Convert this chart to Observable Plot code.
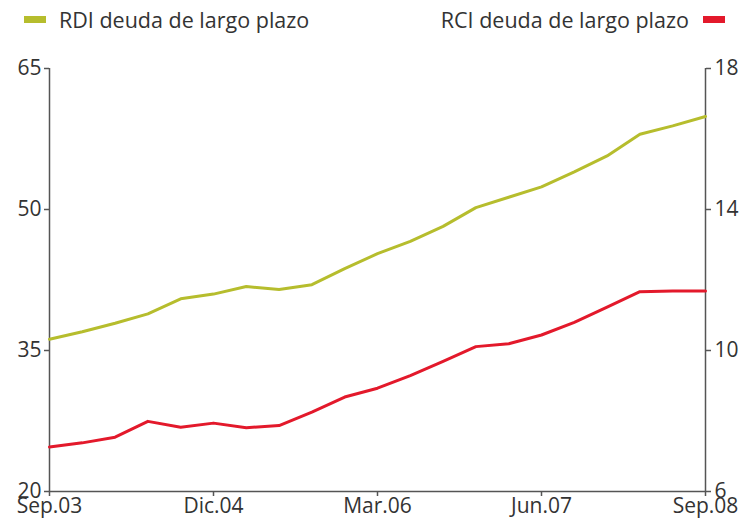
<!DOCTYPE html>
<html><head><meta charset="utf-8">
<script src="https://cdn.jsdelivr.net/npm/d3@7"></script>
<script src="https://cdn.jsdelivr.net/npm/@observablehq/plot@0.6"></script>
<style>
body{margin:0;background:#fff;font-family:"Open Sans",sans-serif;overflow:hidden;}
#wrap{position:relative;width:747px;height:526px;}
.leg{position:absolute;top:5px;font-size:21.5px;color:#333;display:flex;align-items:center;}
.sw{display:inline-block;width:22px;height:7px;}
</style></head><body>
<div id="wrap">
<div class="leg" style="left:24px;"><span class="sw" style="background:#b6bd2d;margin-right:13px"></span>RDI deuda de largo plazo</div>
<div class="leg" style="right:22px;">RCI deuda de largo plazo<span class="sw" style="background:#e3192b;margin-left:14px"></span></div>
<div id="chart"></div>
</div>
<script>
const quarters = ["Sep.03","Dic.03","Mar.04","Jun.04","Sep.04","Dic.04","Mar.05","Jun.05","Sep.05","Dic.05","Mar.06","Jun.06","Sep.06","Dic.06","Mar.07","Jun.07","Sep.07","Dic.07","Mar.08","Jun.08","Sep.08"];
const rdi = [36.2,37.0,37.9,38.9,40.5,41.0,41.8,41.5,42.0,43.7,45.3,46.6,48.2,50.2,51.3,52.4,54.0,55.7,58.0,58.9,59.9];
const rci = [7.26,7.38,7.54,7.99,7.82,7.94,7.81,7.87,8.25,8.68,8.93,9.29,9.69,10.11,10.19,10.44,10.8,11.23,11.67,11.69,11.69];
const xTicks = ["Sep.03","Dic.04","Mar.06","Jun.07","Sep.08"];
const leftTicks = [20,35,50,65];
const rightTicks = [6,10,14,18];
const leftDomain = [20,65];
const rightDomain = [6,18];
const toLeft = v => leftDomain[0] + (v - rightDomain[0]) * (leftDomain[1]-leftDomain[0])/(rightDomain[1]-rightDomain[0]);
const toRight = v => rightDomain[0] + (v - leftDomain[0]) * (rightDomain[1]-rightDomain[0])/(leftDomain[1]-leftDomain[0]);
const dRdi = quarters.map((q,i)=>({i, q, v: rdi[i]}));
const dRci = quarters.map((q,i)=>({i, q, v: toLeft(rci[i])}));
const axisColor = "#555";
const last = quarters.length - 1;
const chart = Plot.plot({
  width: 747, height: 486,
  marginTop: 28, marginBottom: 35, marginLeft: 49, marginRight: 42,
  style: {fontFamily: "Open Sans, sans-serif", fontSize: "21px", color: "#333", background: "#fff"},
  x: {type: "linear", domain: [0, last]},
  y: {domain: leftDomain},
  marks: [
    Plot.ruleX([0, last], {stroke: axisColor, strokeWidth: 1.5}),
    Plot.ruleY([leftDomain[0]], {stroke: axisColor, strokeWidth: 1.5}),
    Plot.axisX({ticks: xTicks.map(t => quarters.indexOf(t)), tickFormat: i => quarters[i], tickSize: 5, tickPadding: 2, stroke: axisColor, strokeWidth: 1.5, label: null, fill: "#333"}),
    Plot.axisY({anchor: "left", ticks: leftTicks, tickSize: 5, tickPadding: 3, stroke: axisColor, strokeWidth: 1.5, label: null, fill: "#333"}),
    Plot.axisY({anchor: "right", ticks: rightTicks.map(toLeft), tickFormat: d => String(Math.round(toRight(d))), tickSize: 5, tickPadding: 4, stroke: axisColor, strokeWidth: 1.5, label: null, fill: "#333"}),
    Plot.line(dRdi, {x: "i", y: "v", stroke: "#b6bd2d", strokeWidth: 3}),
    Plot.line(dRci, {x: "i", y: "v", stroke: "#e3192b", strokeWidth: 3})
  ]
});
chart.style.position = "absolute";
chart.style.top = "40px";
chart.style.left = "0px";
document.getElementById("chart").appendChild(chart);
</script>
</body></html>
